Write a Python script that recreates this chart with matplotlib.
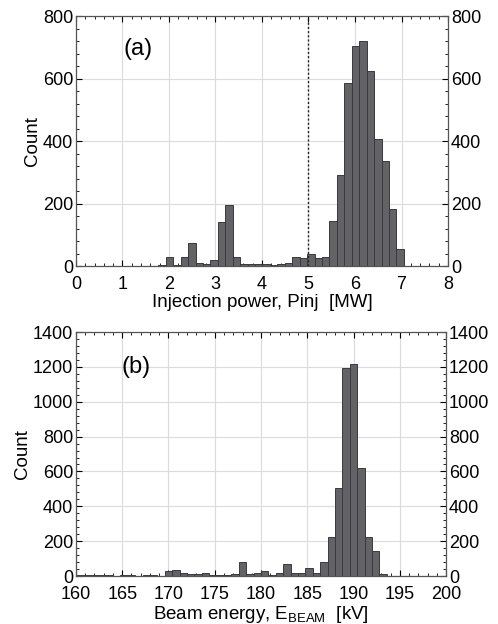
import numpy as np
import matplotlib.pyplot as plt
from matplotlib.ticker import MultipleLocator

plt.rcParams['font.family'] = ['Liberation Sans', 'DejaVu Sans']

# (a) injection power histogram, bins of 0.16 MW starting at 1.77 MW
pinj_start = 1.77
pinj_width = 0.16
pinj_counts = [3, 30, 3, 30, 75, 10, 5, 20, 140, 195, 28, 8, 7, 5, 7, 3, 5,
               10, 28, 25, 40, 25, 28, 145, 290, 585, 705, 720, 625, 405, 335,
               183, 55]

# (b) beam energy histogram, bins of 0.8 kV from 160 kV
ebeam_start = 160.0
ebeam_width = 0.8
ebeam_counts = [5, 5, 3, 8, 7, 2, 8, 5, 2, 5, 5, 2, 30, 33, 18, 12, 10, 15, 5,
                3, 3, 10, 80, 10, 15, 30, 8, 15, 68, 20, 20, 44, 20, 82, 225,
                506, 1195, 1215, 621, 225, 145, 10, 0, 0, 0, 0, 0, 0, 0, 0]

bar_face = '#636367'
bar_edge = '#3a3a3e'
grid_col = '#dadadf'

fig = plt.figure(figsize=(4.98, 6.24), dpi=100)
ax1 = fig.add_axes([0.1526, 0.5737, 0.747, 0.4006])
ax2 = fig.add_axes([0.1526, 0.0769, 0.743, 0.391])


def draw_hist(ax, start, width, counts):
    counts = np.array(counts, dtype=float)
    edges = start + width * np.arange(len(counts) + 1)
    ax.hist(edges[:-1], bins=edges, weights=counts, color=bar_face,
            edgecolor=bar_edge, linewidth=0.7, zorder=2)


def style(ax, xmaj, xmin, ymaj, ymin):
    ax.xaxis.set_major_locator(MultipleLocator(xmaj))
    ax.xaxis.set_minor_locator(MultipleLocator(xmin))
    ax.yaxis.set_major_locator(MultipleLocator(ymaj))
    ax.yaxis.set_minor_locator(MultipleLocator(ymin))
    ax.grid(True, which='major', color=grid_col, linewidth=0.8, zorder=0)
    ax.set_axisbelow(True)
    ax.tick_params(which='both', direction='in', top=True, right=True,
                   labelright=True, labelsize=13, pad=2)
    ax.tick_params(axis='x', pad=7)
    ax.tick_params(which='major', length=4)
    ax.tick_params(which='minor', length=2)
    for s in ax.spines.values():
        s.set_color('#555555')
        s.set_linewidth(0.9)
    ax.set_ylabel('Count', fontsize=13.5, labelpad=1)


draw_hist(ax1, pinj_start, pinj_width, pinj_counts)
ax1.axvline(5, color='#222222', linestyle=(0, (1.5, 1.5)), linewidth=1.0, zorder=3)
ax1.set_xlim(0, 8)
ax1.set_ylim(0, 800)
style(ax1, 1, 0.2, 200, 40)
ax1.set_xlabel('Injection power, Pinj  [MW]', fontsize=13.5, labelpad=1)
ax1.text(0.167, 0.87, '(a)', transform=ax1.transAxes, fontsize=17,
         ha='center', va='center')

draw_hist(ax2, ebeam_start, ebeam_width, ebeam_counts)
ax2.set_xlim(160, 200)
ax2.set_ylim(0, 1400)
style(ax2, 5, 1, 200, 40)
ax2.set_xlabel(r'Beam energy, E$_\mathregular{BEAM}$  [kV]', fontsize=13.5,
               labelpad=1)
ax2.text(0.162, 0.857, '(b)', transform=ax2.transAxes, fontsize=17,
         ha='center', va='center')

fig.savefig('out.png', dpi=100)
